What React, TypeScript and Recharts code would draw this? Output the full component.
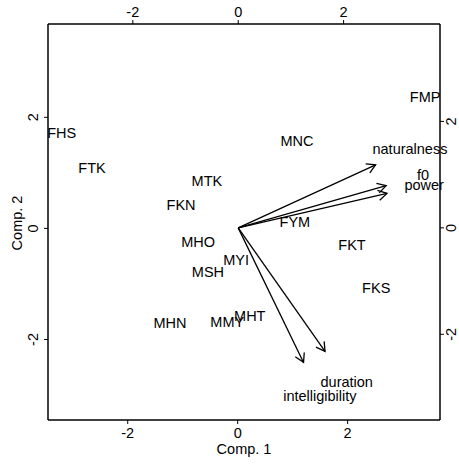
import { ReferenceLine, Scatter, ScatterChart, XAxis, YAxis } from 'recharts'

// observation scores (Comp. 1, Comp. 2)
const obsNames = ['FHS', 'FTK', 'MTK', 'FKN', 'MHO', 'MYI', 'MSH', 'MHN', 'MMY', 'MHT', 'FYM', 'MNC', 'FMP', 'FKT', 'FKS']
const obsX = [-3.2, -2.65, -0.56, -1.03, -0.72, -0.03, -0.54, -1.23, -0.19, 0.22, 1.04, 1.08, 3.41, 2.08, 2.52]
const obsY = [1.72, 1.09, 0.85, 0.42, -0.24, -0.57, -0.79, -1.7, -1.69, -1.58, 0.12, 1.57, 2.37, -0.3, -1.07]

// variable loadings (top / right axes)
const varNames = ['naturalness', 'f0', 'power', 'duration', 'intelligibility']
const varX = [3.26, 3.51, 3.53, 2.06, 1.55]
const varY = [1.48, 0.99, 0.81, -2.9, -3.16]

const ticks = [-2, 0, 2]
const scoreDomain = [-3.45, 3.68]
const loadDomain = [-3.61, 3.83]

const obsData = obsNames.map((name, i) => ({ name, x: obsX[i], y: obsY[i] }))
const varData = varNames.map((name, i) => ({ name, x: varX[i], y: varY[i] }))

const FONT = '"Liberation Sans", Arial, Helvetica, sans-serif'
const FS = 14.5

function TextPoint(props: any) {
  const { cx, cy, payload } = props
  return (
    <text x={cx} y={cy} textAnchor="middle" dominantBaseline="central" fontFamily={FONT} fontSize={FS} fill="#000">
      {payload.name}
    </text>
  )
}

function Arrow(props: any) {
  const { x1, y1, x2, y2 } = props
  const ang = Math.atan2(y2 - y1, x2 - x1)
  const len = 10
  const a1 = ang + Math.PI - Math.PI / 6
  const a2 = ang + Math.PI + Math.PI / 6
  return (
    <g stroke="#000" strokeWidth={1.3} fill="none">
      <line x1={x1} y1={y1} x2={x2} y2={y2} />
      <polyline
        points={`${x2 + len * Math.cos(a1)},${y2 + len * Math.sin(a1)} ${x2},${y2} ${x2 + len * Math.cos(a2)},${y2 + len * Math.sin(a2)}`}
      />
    </g>
  )
}

const tickText = (x: number, y: number, v: number, rotate = false) => (
  <text
    x={x}
    y={y}
    textAnchor="middle"
    dominantBaseline="central"
    fontFamily={FONT}
    fontSize={FS}
    fill="#000"
    transform={rotate ? `rotate(-90, ${x}, ${y})` : undefined}
  >
    {String(v)}
  </text>
)

const BottomTick = (p: any) => tickText(p.x, p.y + 7, p.payload.value)
const TopTick = (p: any) => tickText(p.x, p.y - 6, p.payload.value)
const LeftTick = (p: any) => tickText(p.x - 9, p.y, p.payload.value, true)
const RightTick = (p: any) => tickText(p.x + 5, p.y, p.payload.value, true)

const axisLine = { stroke: '#000', strokeWidth: 1.5 }
const tickLine = { stroke: '#000', strokeWidth: 1 }

export default function App() {
  return (
    <div style={{ position: 'relative', width: 459, height: 464, background: '#fff', fontFamily: FONT }}>
      <style>{'body{margin:0}'}</style>
      <ScatterChart width={459} height={464} margin={{ top: 0, right: 0, bottom: 0, left: 0 }}>
        <XAxis xAxisId="b" type="number" dataKey="x" orientation="bottom" domain={scoreDomain} ticks={ticks}
          height={44} tickSize={4} axisLine={axisLine} tickLine={tickLine} tick={BottomTick} />
        <XAxis xAxisId="t" type="number" dataKey="x" orientation="top" domain={loadDomain} ticks={ticks}
          height={24} tickSize={4} axisLine={axisLine} tickLine={tickLine} tick={TopTick} />
        <YAxis yAxisId="l" type="number" dataKey="y" orientation="left" domain={scoreDomain} ticks={ticks}
          width={48} tickSize={4} axisLine={axisLine} tickLine={tickLine} tick={LeftTick} />
        <YAxis yAxisId="r" type="number" dataKey="y" orientation="right" domain={loadDomain} ticks={ticks}
          width={19} tickSize={4} axisLine={axisLine} tickLine={tickLine} tick={RightTick} />
        {varData.map((d) => (
          <ReferenceLine
            key={d.name}
            xAxisId="t"
            yAxisId="r"
            segment={[{ x: 0, y: 0 }, { x: d.x * 0.8, y: d.y * 0.8 }]}
            shape={Arrow}
            ifOverflow="visible"
          />
        ))}
        <Scatter data={obsData} xAxisId="b" yAxisId="l" shape={TextPoint} isAnimationActive={false} />
        <Scatter data={varData} xAxisId="t" yAxisId="r" shape={TextPoint} isAnimationActive={false} />
      </ScatterChart>
      <div style={{ position: 'absolute', left: 0, width: 488, top: 441, textAlign: 'center', fontSize: FS, lineHeight: '16px' }}>
        Comp. 1
      </div>
      <div
        style={{
          position: 'absolute', left: 17, top: 223, width: 0, height: 0, overflow: 'visible',
        }}
      >
        <div style={{ position: 'absolute', transform: 'translate(-50%, -50%) rotate(-90deg)', whiteSpace: 'nowrap', fontSize: FS, lineHeight: '16px' }}>
          Comp. 2
        </div>
      </div>
    </div>
  )
}
